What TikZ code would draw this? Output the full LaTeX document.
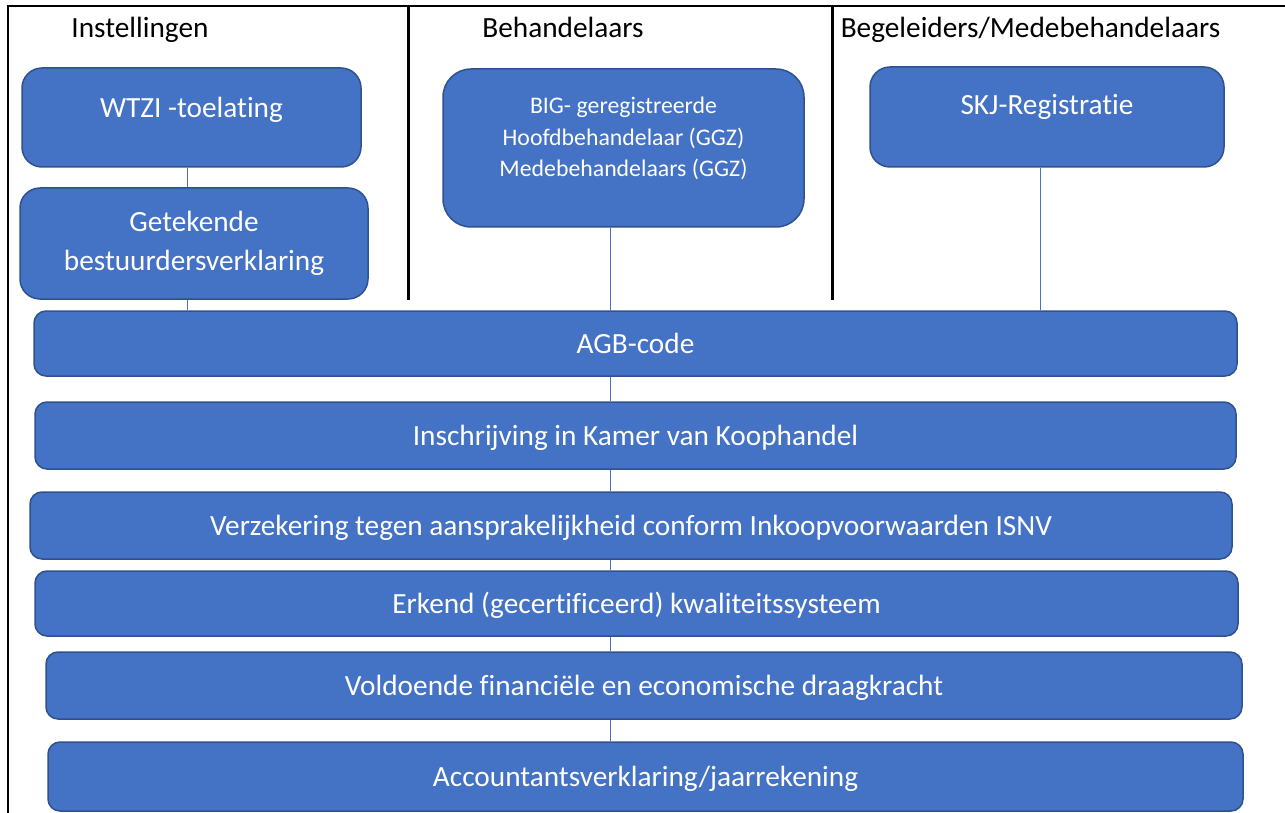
\documentclass[tikz,border=0pt]{standalone}
\usepackage{fontspec}
\setmainfont{Carlito}[Ligatures=NoCommon]
\definecolor{boxfill}{HTML}{4472C4}
\definecolor{boxline}{HTML}{2F528F}

\begin{document}
\begin{tikzpicture}[x=1pt,y=1pt]
\tikzstyle{every node}+=[inner sep=0pt]
\tikzstyle{head}=[anchor=base, font=\fontsize{29.3}{34}\selectfont]
\tikzstyle{card}=[draw=boxline, line width=1.5pt, fill=boxfill, text=white, rounded corners=20pt, align=center, font=\fontsize{29.3}{39}\selectfont]
\tikzstyle{bar}=[card, rounded corners=12pt, text height=22pt, text depth=2pt]
\tikzstyle{link}=[boxfill, line width=0.8pt]
\tikzstyle{rule}=[black, line width=3pt]
\useasboundingbox (0,0) rectangle (1285,-813);
% frame and column rules
\draw [black, line width=2pt] (8,-813) -- (8,-6) -- (1285,-6);
\draw [rule] (408,-6) -- (408,-300);
\draw [rule] (832,-6) -- (832,-300);
% headings
\node [head] (instel) at (140,-38) {Instellingen};
\node [head] (behand) at (563,-38) {Behandelaars};
\node [head] (begel) at (1030.5,-38) {Begeleiders/Medebehandelaars};
% top boxes
\node [card, minimum width=339pt, minimum height=99pt, text height=12pt, text depth=12pt] (wtzi) at (191.5,-117.5) {WTZI -toelating};
\node [card, minimum width=348pt, minimum height=111pt] (getek) at (194,-243.5) {Getekende\\bestuurdersverklaring};
\node [card, rounded corners=28pt, minimum width=361pt, minimum height=158pt, font=\fontsize{23.8}{31.5}\selectfont, text height=68pt, text depth=10pt] (big) at (623.5,-148) {BIG- geregistreerde\\Hoofdbehandelaar (GGZ)\\Medebehandelaars (GGZ)};
\node [card, minimum width=354pt, minimum height=100pt, text height=12pt, text depth=16pt] (skj) at (1047,-117) {SKJ-Registratie};
% bars
\node [bar, minimum width=1203pt, minimum height=65pt] (agb) at (635.5,-343.5) {AGB-code};
\node [bar, minimum width=1201pt, minimum height=67pt] (kvk) at (635.5,-435.5) {Inschrijving in Kamer van Koophandel};
\node [bar, minimum width=1202pt, minimum height=67pt] (verz) at (631,-525.5) {Verzekering tegen aansprakelijkheid conform Inkoopvoorwaarden ISNV};
\node [bar, minimum width=1203pt, minimum height=65pt] (erk) at (636.5,-603.5) {Erkend (gecertificeerd) kwaliteitssysteem};
\node [bar, minimum width=1196pt, minimum height=67pt] (vold) at (644,-685.5) {Voldoende financiële en economische draagkracht};
\node [bar, minimum width=1195pt, minimum height=69pt] (acc) at (645.5,-776.5) {Accountantsverklaring/jaarrekening};
% connectors
\coordinate (spineA) at (187,0);
\coordinate (spineB) at (610,0);
\coordinate (spineC) at (1040,0);
\draw [link] (wtzi.south -| spineA) -- (getek.north -| spineA);
\draw [link] (getek.south -| spineA) -- (agb.north -| spineA);
\draw [link] (big.south -| spineB) -- (agb.north -| spineB);
\draw [link] (skj.south -| spineC) -- (agb.north -| spineC);
\foreach \a/\b in {agb/kvk, kvk/verz, verz/erk, erk/vold, vold/acc}
  \draw [link] (\a.south -| spineB) -- (\b.north -| spineB);
\end{tikzpicture}
\end{document}
